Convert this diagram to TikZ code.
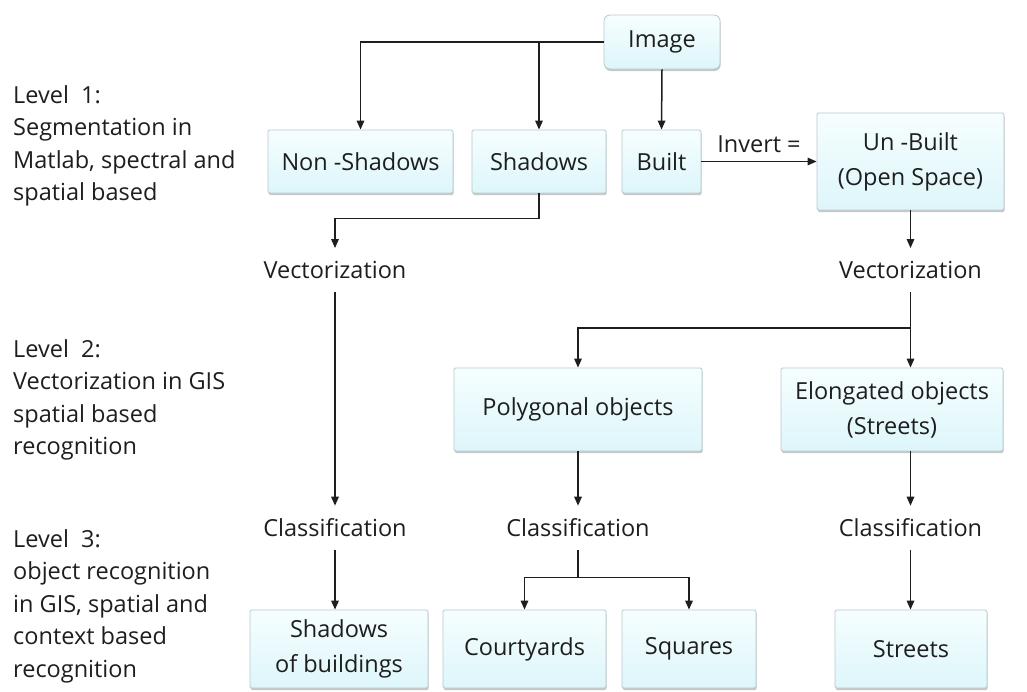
\documentclass[tikz,border=0pt]{standalone}
\usepackage{fontspec}
\setmainfont{Open Sans}
\usepackage{xcolor}
\usepackage{tikz}
\usetikzlibrary{arrows.meta,shadows}
\definecolor{ink}{HTML}{1E1E1E}
\definecolor{boxline}{HTML}{B9C9CC}
\definecolor{boxtop}{HTML}{F6FEFF}
\definecolor{boxbot}{HTML}{DDF6FA}
\tikzset{
    every picture/.style={line cap=butt,line join=miter},
    stagebox/.style={draw=boxline,line width=0.8pt,top color=boxtop,bottom color=boxbot,
      rounded corners=1.5pt,inner sep=0pt,align=center,text=ink,
      font=\fontsize{23.5}{35}\selectfont,
      drop shadow={shadow xshift=0.6pt,shadow yshift=-2pt,opacity=0.22,fill=black}},
    steplabel/.style={inner xsep=2pt,inner ysep=13pt,text=ink},
    levelnote/.style={anchor=west,align=left,text=ink,inner sep=0pt},
    flow/.style={-{Triangle[length=9pt,width=7.5pt]},draw=ink,line width=1.5pt},
    plainline/.style={draw=ink,line width=1.5pt}
}

\begin{document}
\begin{tikzpicture}[x=1pt,y=-1pt,font=\fontsize{23.5}{32.5}\selectfont]
  \useasboundingbox (0,0) rectangle (1027,691);
  % level notes
  \node[levelnote] (lev1) at (13,146) {Level\ \ 1:\\Segmentation in\\Matlab, spectral and\\spatial based};
  \node[levelnote] (lev2) at (13,400) {Level\ \ 2:\\Vectorization in GIS\\spatial based\\recognition};
  \node[levelnote] (lev3) at (13,606) {Level\ \ 3:\\object recognition\\in GIS, spatial and\\context based\\recognition};
  % level 1
  \node[stagebox,rounded corners=6pt,minimum width=116pt,minimum height=54pt] (img) at (662,42) {Image};
  \node[stagebox,minimum width=185pt,minimum height=63pt] (nonsh) at (360.5,161.5) {Non -Shadows};
  \node[stagebox,minimum width=134pt,minimum height=63pt] (shad) at (539,161.5) {Shadows};
  \node[stagebox,minimum width=79pt,minimum height=63pt] (built) at (661.5,161.5) {Built};
  \node[stagebox,minimum width=187pt,minimum height=97pt] (unb) at (910.5,161.5) {Un -Built\\(Open Space)};
  % level 2
  \node[steplabel] (vecL) at (335,270) {Vectorization};
  \node[steplabel] (vecR) at (910.5,270) {Vectorization};
  \node[stagebox,minimum width=248pt,minimum height=83pt] (poly) at (578,409.5) {Polygonal objects};
  \node[stagebox,minimum width=222pt,minimum height=83pt] (elong) at (892,409.5) {Elongated objects\\(Streets)};
  % level 3
  \node[steplabel] (clsL) at (335,528) {Classification};
  \node[steplabel] (clsM) at (578,528) {Classification};
  \node[steplabel] (clsR) at (910.5,528) {Classification};
  \node[stagebox,minimum width=178pt,minimum height=78pt] (shb) at (339,649) {Shadows\\of buildings};
  \node[stagebox,minimum width=163pt,minimum height=78pt] (court) at (524.5,649) {Courtyards};
  \node[stagebox,minimum width=134pt,minimum height=78pt] (squar) at (689,649) {Squares};
  \node[stagebox,minimum width=152pt,minimum height=78pt] (strt) at (911,649) {Streets};
  % connectors
  \draw[flow] (img.west) -| (nonsh.north);
  \draw[flow] (img.west -| shad.north) -- (shad.north);
  \draw[flow] (img.south) -- (built.north);
  \draw[flow] (built.east) -- node[above=6pt,text=ink,inner sep=2pt]{Invert =} (unb.west);
  \draw[flow] (shad.south) -- ++(0,25) -| (vecL.north);
  \draw[flow] (unb.south) -- (vecR.north);
  \draw[flow] (vecL.south) -- (clsL.north);
  \draw[plainline] (vecR.south) -- ++(0,36) coordinate (split);
  \draw[flow] (split) -| (poly.north);
  \draw[flow] (split) -- (split |- elong.north);
  \draw[flow] (poly.south) -- (clsM.north);
  \draw[flow] (clsR.north |- elong.south) -- (clsR.north);
  \draw[flow] (clsL.south) -- (clsL.south |- shb.north);
  \draw[plainline] (clsM.south) -- ++(0,27) coordinate (fork);
  \draw[flow] (fork) -| (court.north);
  \draw[flow] (fork) -| (squar.north);
  \draw[flow] (clsR.south) -- (clsR.south |- strt.north);
\end{tikzpicture}
\end{document}
